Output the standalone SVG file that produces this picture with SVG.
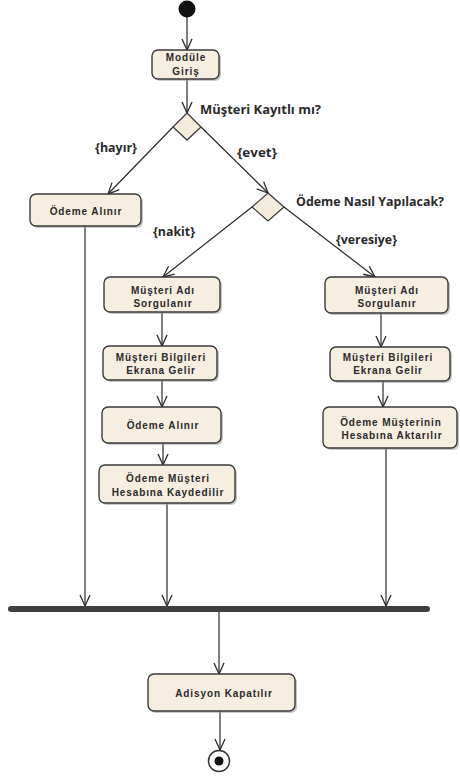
<svg xmlns="http://www.w3.org/2000/svg" width="460" height="777" viewBox="0 0 460 777">
<style>
.box{fill:#f6eee1;stroke:#3a3a3a;stroke-width:1.4}
.sh{fill:#9a9a9a;opacity:0.55}
.dia{fill:#f4ebdc;stroke:#3a3a3a;stroke-width:1.3}
.t{font-family:"Liberation Sans",Arial,sans-serif;font-weight:bold;font-size:10px;letter-spacing:0.9px;fill:#2a2a2a;text-anchor:middle}
.lbl{font-family:"Open Sans","Noto Sans",sans-serif;font-weight:bold;font-size:12px;fill:#2a2a2a}
.e{fill:none;stroke:#2a2a2a;stroke-width:1.2;marker-end:url(#arr)}
</style>
<defs>
<marker id="arr" markerUnits="userSpaceOnUse" markerWidth="15" markerHeight="14" refX="12" refY="6" orient="auto">
<path d="M1,1 L12,6 L1,11" fill="none" stroke="#2a2a2a" stroke-width="1.3"/>
</marker>
</defs>
<rect width="460" height="777" fill="#ffffff"/>

<g id="connectors">
<line class="e" x1="187" y1="17" x2="187" y2="50"/>
<line class="e" x1="187" y1="79" x2="187" y2="113"/>
<line class="e" x1="173" y1="127" x2="108" y2="194"/>
<line class="e" x1="201" y1="127" x2="268" y2="193"/>
<line class="e" x1="252" y1="207" x2="163" y2="277"/>
<line class="e" x1="284" y1="207" x2="375" y2="277"/>
<line class="e" x1="162" y1="312" x2="162" y2="346"/>
<line class="e" x1="162" y1="380" x2="162" y2="407"/>
<line class="e" x1="163" y1="443" x2="163" y2="465"/>
<line class="e" x1="167" y1="503" x2="167" y2="606"/>
<line class="e" x1="85" y1="226" x2="85" y2="606"/>
<line class="e" x1="381" y1="313" x2="381" y2="347"/>
<line class="e" x1="383" y1="381" x2="383" y2="407"/>
<line class="e" x1="386" y1="448" x2="386" y2="606"/>
<line class="e" x1="219" y1="612" x2="219" y2="674"/>
<line class="e" x1="220" y1="711" x2="220" y2="750"/>
</g>

<g id="start"><circle cx="187" cy="9" r="8.5" fill="#111"/></g>

<g id="modul-giris">
<rect class="sh" x="154" y="52" width="67" height="29" rx="6"/>
<rect class="box" x="152" y="50" width="67" height="29" rx="6"/>
<text class="t" x="186" y="61">Modüle</text>
<text class="t" x="186" y="75">Giriş</text>
</g>

<g id="karar-kayitli">
<polygon class="dia" points="187,113 201,127 187,140 173,127"/>
<text class="lbl" x="200" y="114" textLength="121" lengthAdjust="spacingAndGlyphs">Müşteri Kayıtlı mı?</text>
<text class="lbl" x="95" y="152" textLength="42" lengthAdjust="spacingAndGlyphs">{hayır}</text>
<text class="lbl" x="237" y="157" textLength="40" lengthAdjust="spacingAndGlyphs">{evet}</text>
</g>

<g id="odeme-alinir-1">
<rect class="sh" x="32" y="196" width="111" height="32" rx="6"/>
<rect class="box" x="30" y="194" width="111" height="32" rx="6"/>
<text class="t" x="86" y="214.5">Ödeme Alınır</text>
</g>

<g id="karar-odeme">
<polygon class="dia" points="268,193 284,207 268,221 252,207"/>
<text class="lbl" x="296" y="206" textLength="148" lengthAdjust="spacingAndGlyphs">Ödeme Nasıl Yapılacak?</text>
<text class="lbl" x="153" y="236" textLength="42" lengthAdjust="spacingAndGlyphs">{nakit}</text>
<text class="lbl" x="336" y="244" textLength="61" lengthAdjust="spacingAndGlyphs">{veresiye}</text>
</g>

<g id="musteri-adi-1">
<rect class="sh" x="106" y="279" width="116" height="35" rx="6"/>
<rect class="box" x="104" y="277" width="116" height="35" rx="6"/>
<text class="t" x="163" y="293.5">Müşteri Adı</text>
<text class="t" x="163" y="306.5">Sorgulanır</text>
</g>

<g id="musteri-bilgi-1">
<rect class="sh" x="105" y="348" width="114" height="34" rx="6"/>
<rect class="box" x="103" y="346" width="114" height="34" rx="6"/>
<text class="t" x="161" y="360.5">Müşteri Bilgileri</text>
<text class="t" x="161" y="373.5">Ekrana Gelir</text>
</g>

<g id="odeme-alinir-2">
<rect class="sh" x="104" y="409" width="119" height="36" rx="6"/>
<rect class="box" x="102" y="407" width="119" height="36" rx="6"/>
<text class="t" x="163" y="428.5">Ödeme Alınır</text>
</g>

<g id="odeme-kaydedilir">
<rect class="sh" x="101" y="467" width="136" height="38" rx="6"/>
<rect class="box" x="99" y="465" width="136" height="38" rx="6"/>
<text class="t" x="168" y="481.5">Ödeme Müşteri</text>
<text class="t" x="168" y="495.5">Hesabına Kaydedilir</text>
</g>

<g id="musteri-adi-2">
<rect class="sh" x="327" y="279" width="123" height="36" rx="6"/>
<rect class="box" x="325" y="277" width="123" height="36" rx="6"/>
<text class="t" x="387" y="293.5">Müşteri Adı</text>
<text class="t" x="387" y="306.5">Sorgulanır</text>
</g>

<g id="musteri-bilgi-2">
<rect class="sh" x="332" y="349" width="120" height="34" rx="6"/>
<rect class="box" x="330" y="347" width="120" height="34" rx="6"/>
<text class="t" x="388" y="361">Müşteri Bilgileri</text>
<text class="t" x="388" y="374">Ekrana Gelir</text>
</g>

<g id="odeme-aktarilir">
<rect class="sh" x="325" y="409" width="134" height="41" rx="6"/>
<rect class="box" x="323" y="407" width="134" height="41" rx="6"/>
<text class="t" x="391" y="425.5">Ödeme Müşterinin</text>
<text class="t" x="392" y="438.5">Hesabına Aktarılır</text>
</g>

<g id="birlesme">
<rect x="8" y="606" width="422" height="6" rx="3" fill="#3f3f3f"/>
</g>

<g id="adisyon">
<rect class="sh" x="150" y="676" width="147" height="37" rx="6"/>
<rect class="box" x="148" y="674" width="147" height="37" rx="6"/>
<text class="t" x="224" y="696.5">Adisyon Kapatılır</text>
</g>

<g id="end">
<circle cx="219" cy="761" r="10.5" fill="#fff" stroke="#333" stroke-width="1.5"/>
<circle cx="219" cy="761" r="4.5" fill="#111"/>
</g>
</svg>
